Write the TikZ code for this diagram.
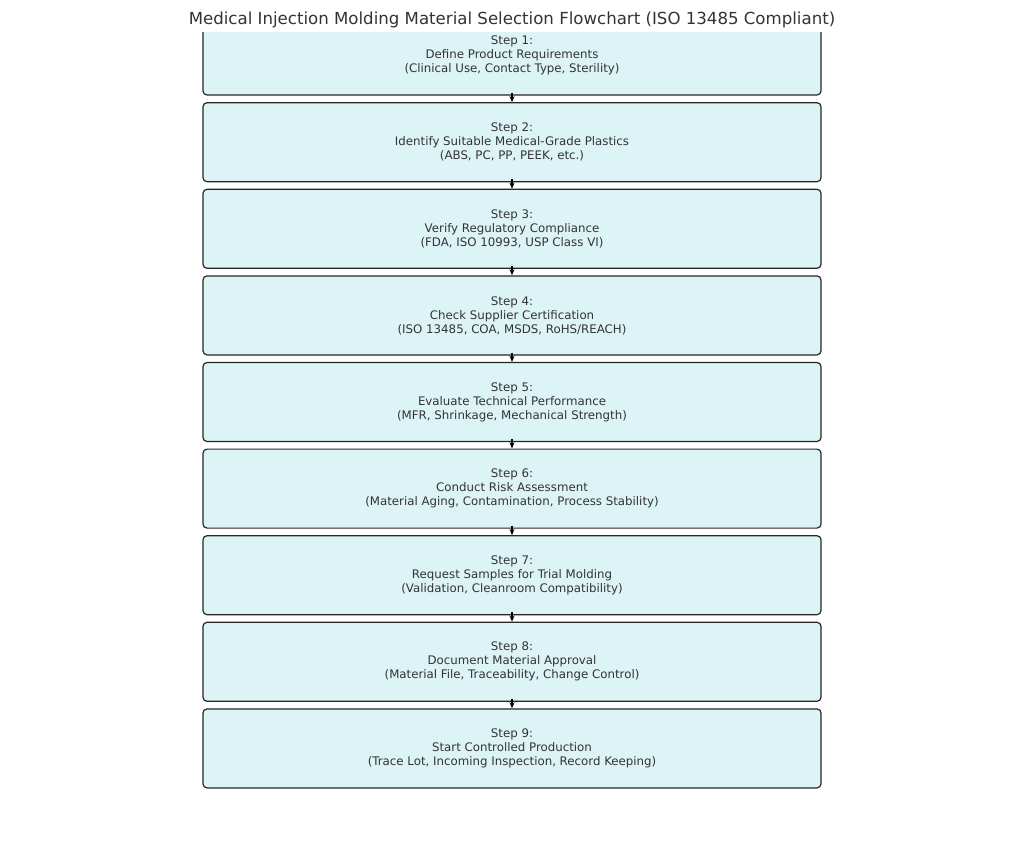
\documentclass[tikz,border=0pt]{standalone}
\usepackage{fontspec}
\setmainfont{DejaVu Sans}
\usetikzlibrary{arrows.meta}
\definecolor{boxfill}{HTML}{DDF4F7}
\definecolor{txt}{HTML}{333333}
\begin{document}
\begin{tikzpicture}[x=1pt,y=-1pt,
  stepbox/.style={draw=black!85,line width=1.2pt,fill=boxfill,rounded corners=4pt,minimum width=618pt,minimum height=79pt,align=center,text=txt,font=\fontsize{11.8pt}{14pt}\selectfont,inner sep=0pt},
  flow/.style={-{Stealth[length=6pt,width=5pt]},line width=1.3pt,shorten <=-3pt}]
\useasboundingbox (0,0) rectangle (1024,853);
\node[text=txt,font=\fontsize{16.6pt}{19pt}\selectfont] (title) at (512,20) {Medical Injection Molding Material Selection Flowchart (ISO 13485 Compliant)};
\begin{scope}
\clip (150,33) rectangle (870,853);
\node[stepbox] (s1) at (512,55.5) {Step 1:\\Define Product Requirements\\(Clinical Use, Contact Type, Sterility)};
\end{scope}
\node[stepbox] (s2) at (512,142.2) {Step 2:\\Identify Suitable Medical-Grade Plastics\\(ABS, PC, PP, PEEK, etc.)};
\node[stepbox] (s3) at (512,228.8) {Step 3:\\Verify Regulatory Compliance\\(FDA, ISO 10993, USP Class VI)};
\node[stepbox] (s4) at (512,315.4) {Step 4:\\Check Supplier Certification\\(ISO 13485, COA, MSDS, RoHS/REACH)};
\node[stepbox] (s5) at (512,402) {Step 5:\\Evaluate Technical Performance\\(MFR, Shrinkage, Mechanical Strength)};
\node[stepbox] (s6) at (512,488.6) {Step 6:\\Conduct Risk Assessment\\(Material Aging, Contamination, Process Stability)};
\node[stepbox] (s7) at (512,575.2) {Step 7:\\Request Samples for Trial Molding\\(Validation, Cleanroom Compatibility)};
\node[stepbox] (s8) at (512,661.8) {Step 8:\\Document Material Approval\\(Material File, Traceability, Change Control)};
\node[stepbox] (s9) at (512,748.4) {Step 9:\\Start Controlled Production\\(Trace Lot, Incoming Inspection, Record Keeping)};
\foreach \a/\b in {s1/s2,s2/s3,s3/s4,s4/s5,s5/s6,s6/s7,s7/s8,s8/s9}
  \draw[flow] (\a.south) -- (\b.north);
\end{tikzpicture}
\end{document}
